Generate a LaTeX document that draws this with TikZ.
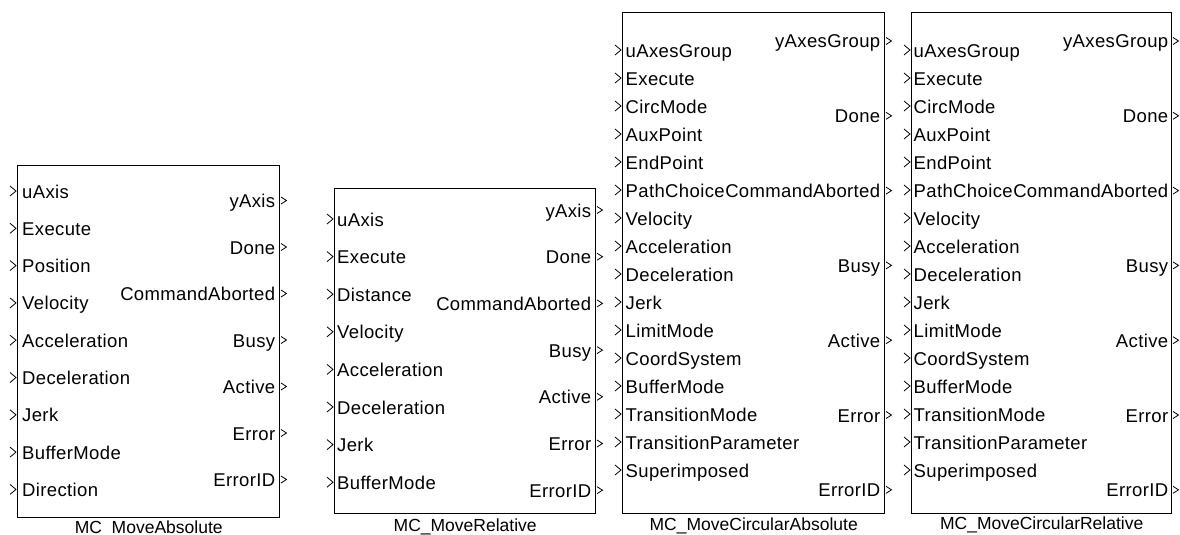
\documentclass[tikz,border=0pt]{standalone}
\usepackage{fontspec}
\setmainfont{Liberation Sans}
\newfontfamily\portfont[LetterSpace=2]{Liberation Sans}

% Port rows of a function block: #1 block, #2 offset of first baseline below the top edge,
% #3 row pitch, #4 text inset, #5 port names
\newcommand\fbinports[5]{%
  \foreach \t [count=\i from 0] in {#5} {
    \path (#1.north west) ++(0,{#2+#3*\i}) coordinate (#1-i\i);
    \draw[pinmark] (#1-i\i) ++(-7,-12) -- ++(6,5) -- ++(-6,5);
    \node[inlabel] (#1-il\i) at ([xshift=#4pt]#1-i\i) {\t};
  }}
\newcommand\fboutports[5]{%
  \foreach \t [count=\i from 0] in {#5} {
    \path (#1.north east) ++(0,{#2+#3*\i}) coordinate (#1-o\i);
    \draw[poutmark] (#1-o\i) ++(0.6,-10.5) -- ++(5.5,3.5) -- ++(-5.5,3.5);
    \node[outlabel] (#1-ol\i) at ([xshift=-#4pt]#1-o\i) {\t};
  }}

\begin{document}
\begin{tikzpicture}[x=1pt,y=-1pt,
  fblock/.style={draw, line width=1.4pt, inner sep=0pt, anchor=north west},
  pinmark/.style={line width=0.8pt, line join=miter},
  poutmark/.style={line width=0.8pt, line join=miter},
  inlabel/.style={inner sep=0pt, anchor=base west, font=\portfont\fontsize{18.5}{20}\selectfont},
  outlabel/.style={inner sep=0pt, anchor=base east, font=\portfont\fontsize{18.5}{20}\selectfont},
  fbtitle/.style={inner sep=0pt, anchor=base, font=\fontsize{17.5}{20}\selectfont}]
\useasboundingbox (0,0) rectangle (1180,535);
\fill[white] (0,0) rectangle (1180,535);

% MC_MoveAbsolute
\node[fblock, minimum width=262pt, minimum height=352pt] (mabs) at (17,165) {};
\fbinports{mabs}{33}{37.3}{5}{uAxis,Execute,Position,Velocity,Acceleration,Deceleration,Jerk,BufferMode,Direction}
\fboutports{mabs}{42.5}{46.5}{5}{yAxis,Done,CommandAborted,Busy,Active,Error,ErrorID}
\node[fbtitle] (mabs-t) at ([yshift=-15pt]mabs.south) {MC\_MoveAbsolute};

% MC_MoveRelative
\node[fblock, minimum width=261pt, minimum height=325pt] (mrel) at (334,188) {};
\fbinports{mrel}{38}{37.6}{3}{uAxis,Execute,Distance,Velocity,Acceleration,Deceleration,Jerk,BufferMode}
\fboutports{mrel}{29}{46.7}{5}{yAxis,Done,CommandAborted,Busy,Active,Error,ErrorID}
\node[fbtitle] (mrel-t) at ([yshift=-17pt]mrel.south) {MC\_MoveRelative};

% MC_MoveCircularAbsolute
\node[fblock, minimum width=262pt, minimum height=501pt] (mcabs) at (622,12) {};
\fbinports{mcabs}{45}{28}{3.5}{uAxesGroup,Execute,CircMode,AuxPoint,EndPoint,PathChoice,Velocity,Acceleration,Deceleration,Jerk,LimitMode,CoordSystem,BufferMode,TransitionMode,TransitionParameter,Superimposed}
\fboutports{mcabs}{36}{74.8}{5}{yAxesGroup,Done,CommandAborted,Busy,Active,Error,ErrorID}
\node[fbtitle] (mcabs-t) at ([yshift=-16pt]mcabs.south) {MC\_MoveCircularAbsolute};

% MC_MoveCircularRelative
\node[fblock, minimum width=260pt, minimum height=501pt] (mcrel) at (911,12) {};
\fbinports{mcrel}{45}{28}{2.5}{uAxesGroup,Execute,CircMode,AuxPoint,EndPoint,PathChoice,Velocity,Acceleration,Deceleration,Jerk,LimitMode,CoordSystem,BufferMode,TransitionMode,TransitionParameter,Superimposed}
\fboutports{mcrel}{36}{74.8}{4}{yAxesGroup,Done,CommandAborted,Busy,Active,Error,ErrorID}
\node[fbtitle] (mcrel-t) at ([yshift=-15pt]mcrel.south) {MC\_MoveCircularRelative};
\end{tikzpicture}
\end{document}
